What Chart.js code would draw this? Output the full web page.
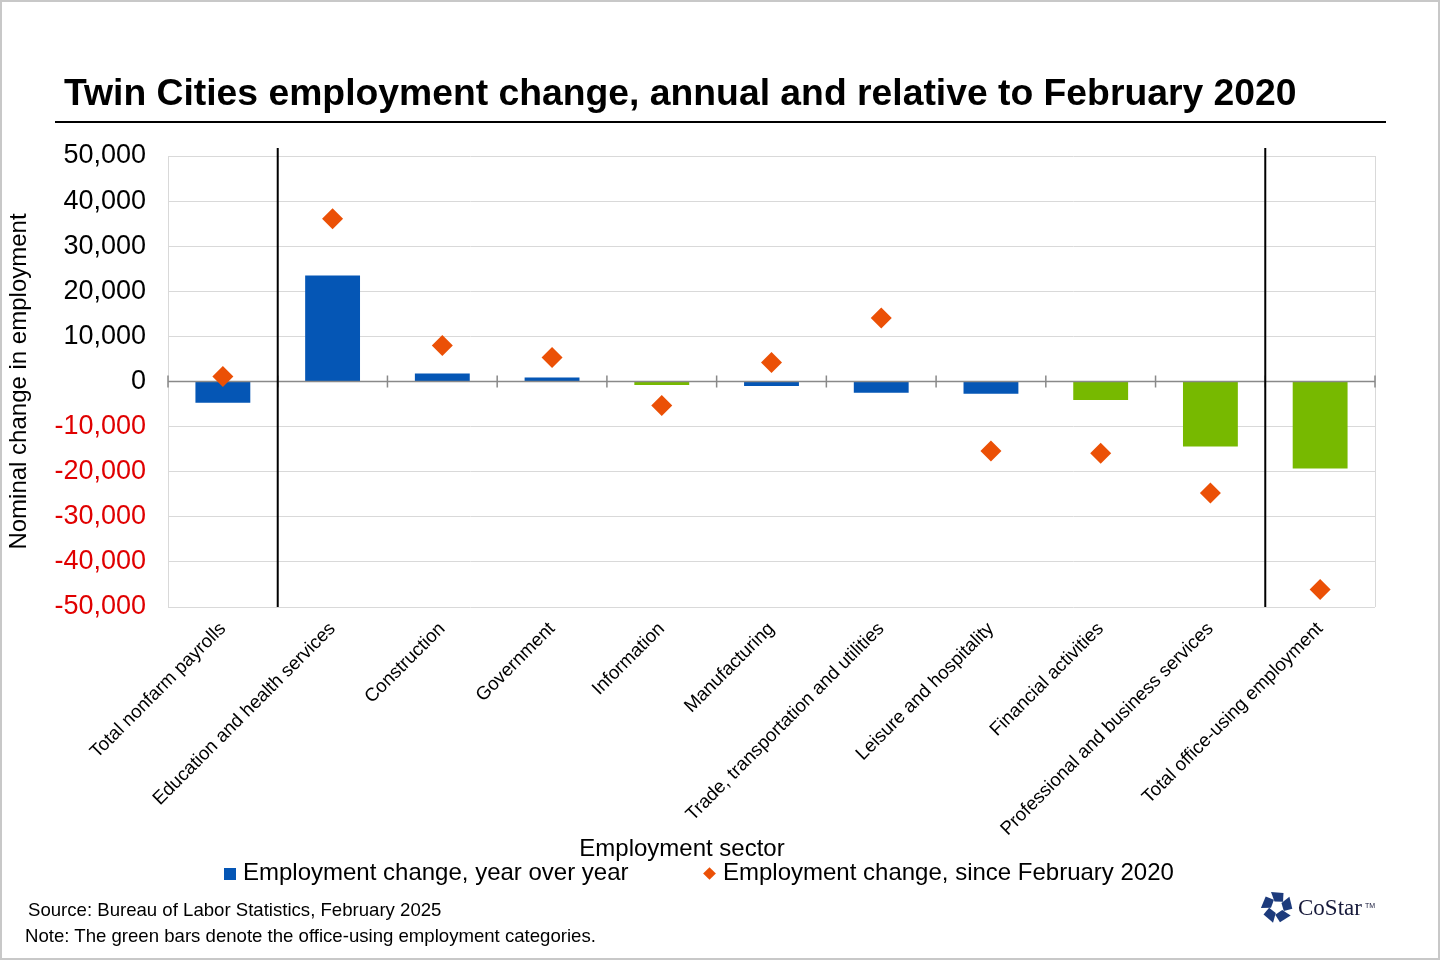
<!DOCTYPE html>
<html>
<head>
<meta charset="utf-8">
<script src="https://cdn.jsdelivr.net/npm/chart.js@4.4.1/dist/chart.umd.min.js"></script>
<style>
  html, body { margin: 0; padding: 0; background: #ffffff; }
  #wrap { position: relative; width: 1440px; height: 960px; overflow: hidden; font-family: "Liberation Sans", Arial, sans-serif; color: #000; }
  #frame { position: absolute; left: 0; top: 0; width: 1440px; height: 960px; box-sizing: border-box; border: 2px solid #c8c8c8; pointer-events: none; }
  #chart { position: absolute; left: 0; top: 0; }
  .txt { position: absolute; white-space: nowrap; line-height: 1; }
  #title { left: 64px; top: 74px; font-size: 37.3px; font-weight: bold; }
  #rule { position: absolute; left: 55px; top: 121px; width: 1331px; height: 2px; background: #000; }
  #xtitle { left: 682px; top: 836px; font-size: 24px; transform: translateX(-50%); }
  .leg { top: 860px; font-size: 24px; }
  .sq { position: absolute; left: 224px; top: 868px; width: 12px; height: 12px; }
  .dia { position: absolute; left: 705px; top: 869px; width: 9px; height: 9px; transform: rotate(45deg); }
  #src { left: 28px; top: 901px; font-size: 18.6px; }
  #note { left: 25px; top: 927px; font-size: 18.6px; }
  #logo { position: absolute; left: 1261px; top: 891px; }
  #costar { left: 1298px; top: 896px; font-size: 23px; font-family: "Liberation Serif", "Times New Roman", serif; color: #16193a; }
  #tm { left: 1365px; top: 902px; font-size: 7px; color: #16193a; }
</style>
</head>
<body>
<div id="wrap">
  <canvas id="chart" width="1440" height="960"></canvas>
  <div id="title" class="txt">Twin Cities employment change, annual and relative to February 2020</div>
  <div id="rule"></div>
  <div id="xtitle" class="txt">Employment sector</div>
  <div class="sq" id="legSq"></div>
  <div class="txt leg" id="leg1" style="left:243px;"></div>
  <div class="dia" id="legDia"></div>
  <div class="txt leg" id="leg2" style="left:723px;"></div>
  <div id="src" class="txt">Source: Bureau of Labor Statistics, February 2025</div>
  <div id="note" class="txt">Note: The green bars denote the office-using employment categories.</div>
  <svg id="logo" width="32" height="32" viewBox="-16 -16 32 32">
    <g fill="#1d3b7c">
      <polygon points="-2.5,-5.5 -6,-15 6.5,-14 6,-5.2" transform="rotate(0)"/>
      <polygon points="-2.5,-5.5 -6,-15 6.5,-14 6,-5.2" transform="rotate(72)"/>
      <polygon points="-2.5,-5.5 -6,-15 6.5,-14 6,-5.2" transform="rotate(144)"/>
      <polygon points="-2.5,-5.5 -6,-15 6.5,-14 6,-5.2" transform="rotate(216)"/>
      <polygon points="-2.5,-5.5 -6,-15 6.5,-14 6,-5.2" transform="rotate(288)"/>
    </g>
  </svg>
  <div id="costar" class="txt">CoStar</div>
  <div id="tm" class="txt">TM</div>
  <div id="frame"></div>
</div>
<script>
// ---------------- data ----------------
const categories = [
  'Total nonfarm payrolls',
  'Education and health services',
  'Construction',
  'Government',
  'Information',
  'Manufacturing',
  'Trade, transportation and utilities',
  'Leisure and hospitality',
  'Financial activities',
  'Professional and business services',
  'Total office-using employment'
];
const changeYearOverYear = [-4700, 23500, 1800, 900, -800, -1000, -2500, -2700, -4100, -14400, -19300];
const changeSinceFeb2020 = [1100, 36100, 8000, 5300, -5300, 4200, 14100, -15400, -15900, -24700, -46100];
const officeUsing = [false, false, false, false, true, false, false, false, true, true, true];
const seriesNames = ['Employment change, year over year', 'Employment change, since February 2020'];
const groupStarts = [1, 10];          // categories where a new group begins (black separators)
const yTicks = [-50000, -40000, -30000, -20000, -10000, 0, 10000, 20000, 30000, 40000, 50000];

// ---------------- styles ----------------
const BLUE = '#0556b5';
const GREEN = '#77b900';
const ORANGE = '#eb5006';
const NEG_RED = '#e00000';
const GRID = '#d9d9d9';
const FONT = '"Liberation Sans", Arial, sans-serif';

document.getElementById('leg1').textContent = seriesNames[0];
document.getElementById('leg2').textContent = seriesNames[1];
document.getElementById('legSq').style.background = BLUE;
document.getElementById('legDia').style.background = ORANGE;

const decor = {
  id: 'decor',
  beforeDatasetsDraw(chart) {
    const { ctx, chartArea: a } = chart;
    ctx.save();
    ctx.strokeStyle = GRID;
    ctx.lineWidth = 1;
    ctx.beginPath();
    ctx.moveTo(Math.round(a.right) + 0.5, a.top);
    ctx.lineTo(Math.round(a.right) + 0.5, a.bottom);
    ctx.stroke();
    ctx.restore();
  },
  afterDatasetDraw(chart, args) {
    if (args.meta.type !== 'bar') return;
    const { ctx, chartArea: a, scales } = chart;
    const y0 = scales.y.getPixelForValue(0);
    ctx.save();
    ctx.strokeStyle = '#898989';
    ctx.lineWidth = 1.5;
    ctx.beginPath();
    ctx.moveTo(a.left, y0);
    ctx.lineTo(a.right, y0);
    for (let i = 0; i <= categories.length; i++) {
      const x = scales.x.getPixelForValue(i - 0.5);
      ctx.moveTo(x, y0 - 6);
      ctx.lineTo(x, y0 + 6);
    }
    ctx.stroke();
    ctx.restore();
  },
  afterDatasetsDraw(chart) {
    const { ctx, chartArea: a, scales } = chart;
    ctx.save();
    ctx.strokeStyle = '#000';
    ctx.lineWidth = 2;
    ctx.beginPath();
    groupStarts.forEach(g => {
      const x = scales.x.getPixelForValue(g - 0.5);
      ctx.moveTo(x, a.top - 8);
      ctx.lineTo(x, a.bottom);
    });
    ctx.stroke();
    ctx.restore();
  }
};

new Chart(document.getElementById('chart'), {
  type: 'bar',
  data: {
    labels: categories,
    datasets: [
      {
        type: 'line',
        label: seriesNames[1],
        data: changeSinceFeb2020,
        showLine: false,
        pointStyle: 'rectRot',
        pointRadius: 10.5,
        pointHoverRadius: 10.5,
        pointBackgroundColor: ORANGE,
        pointBorderColor: ORANGE,
        pointBorderWidth: 0,
        order: 1
      },
      {
        type: 'bar',
        label: seriesNames[0],
        data: changeYearOverYear,
        backgroundColor: officeUsing.map(o => o ? GREEN : BLUE),
        barPercentage: 0.5,
        categoryPercentage: 1,
        order: 2
      }
    ]
  },
  options: {
    responsive: false,
    animation: false,
    layout: { padding: { left: 0, top: 156, right: 65, bottom: 0 } },
    plugins: { legend: { display: false }, tooltip: { enabled: false } },
    scales: {
      x: {
        grid: { display: false },
        border: { display: false },
        ticks: {
          color: '#000',
          font: { size: 18.7, family: FONT },
          minRotation: 45,
          maxRotation: 45,
          autoSkip: false,
          padding: 3
        },
        afterFit(s) { s.height = 353; }
      },
      y: {
        min: yTicks[0],
        max: yTicks[yTicks.length - 1],
        afterBuildTicks(s) { s.ticks = yTicks.map(v => ({ value: v })); },
        ticks: {
          callback: v => v.toLocaleString('en-US'),
          color: c => (c.tick.value < 0 ? NEG_RED : '#000'),
          font: { size: 27, family: FONT },
          padding: 22
        },
        grid: {
          color: c => (c.tick.value === 0 ? 'rgba(0,0,0,0)' : GRID),
          lineWidth: 1,
          drawTicks: false
        },
        border: { display: true, color: GRID },
        title: {
          display: true,
          text: 'Nominal change in employment',
          color: '#000',
          font: { size: 24, family: FONT },
          padding: { top: 5, bottom: 0 }
        },
        afterFit(s) { s.width = 168; }
      }
    }
  },
  plugins: [decor]
});
</script>
</body>
</html>
